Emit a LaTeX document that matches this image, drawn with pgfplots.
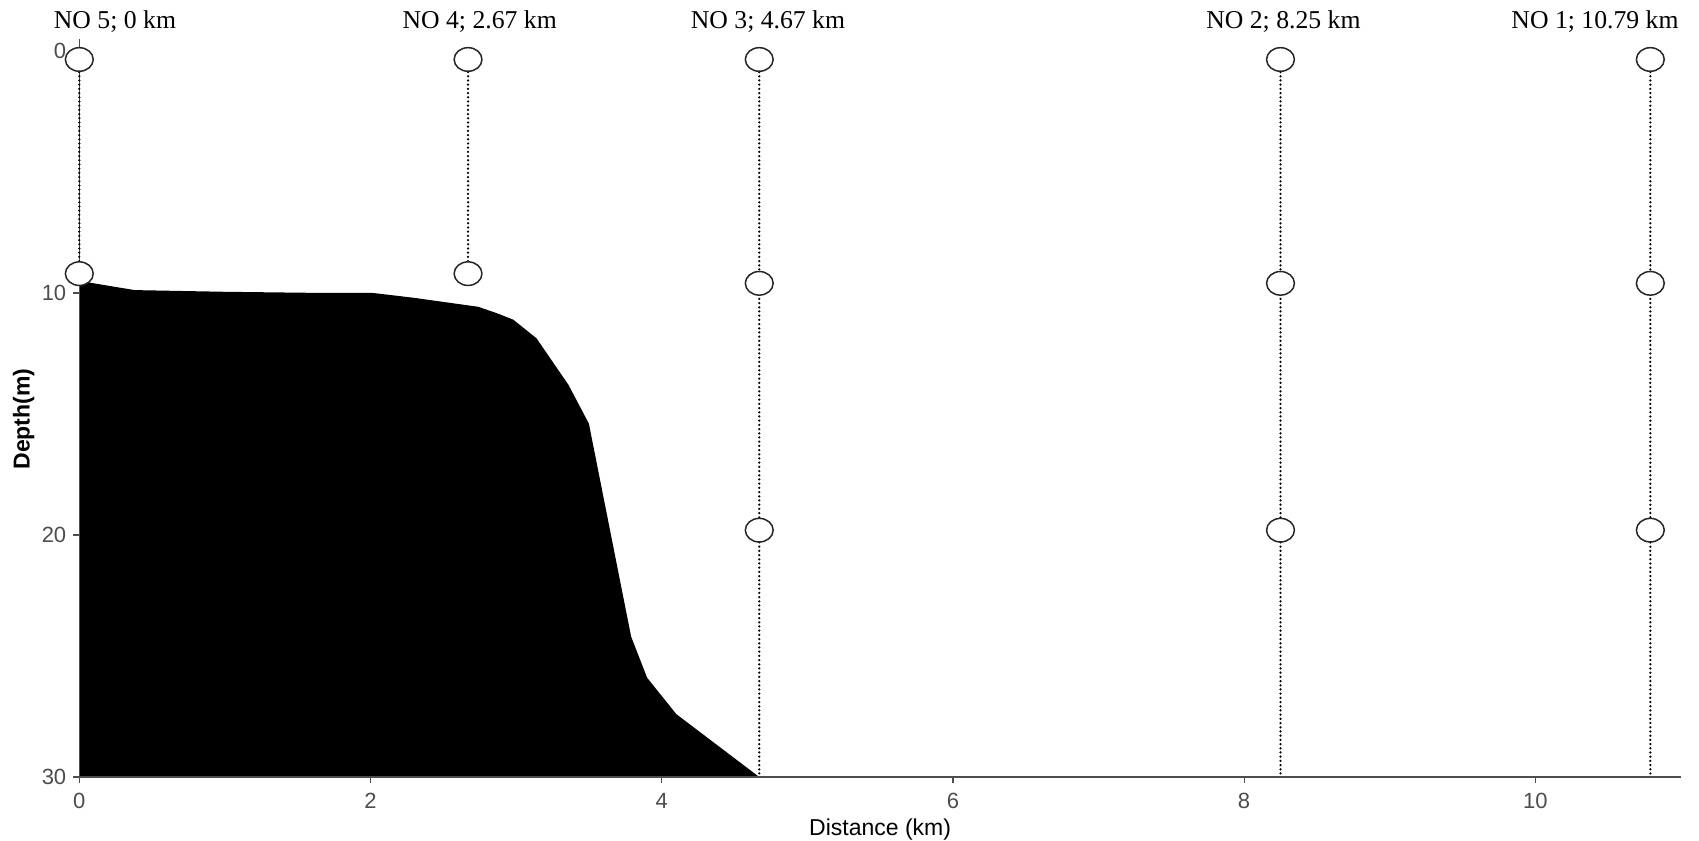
\documentclass[border=0pt]{standalone}
\usepackage{fontspec}
\setmainfont{Liberation Serif}
\setsansfont{Liberation Sans}
\usepackage{pgfplots}
\pgfplotsset{compat=1.18}
\definecolor{gray30}{HTML}{4D4D4D}
\begin{document}
\begin{tikzpicture}
\useasboundingbox (-39.65pt,-32pt) rectangle (809.85pt,388.5pt);
\begin{axis}[
  at={(0pt,0pt)}, anchor=south west,
  scale only axis, width=800.8pt, height=369.05pt,
  xmin=0, xmax=11, ymin=-0.5, ymax=30,
  y dir=reverse,
  clip=false,
  axis line style={draw=none},
  xtick={0,2,4,6,8,10}, ytick={0,10,20,30},
  xtick pos=bottom, ytick pos=left,
  tick align=outside, major tick length=3pt,
  tick style={gray30, line width=0.6pt},
  /pgf/number format/assume math mode=true,
  ticklabel style={font=\sffamily\fontsize{11}{13}\selectfont, text=gray30},
  xticklabel style={yshift=-1.5pt},
  xlabel={Distance (km)},
  ylabel={\bfseries Depth(m)},
  label style={font=\sffamily\fontsize{11.5}{13}\selectfont},
  xlabel style={at={(rel axis cs:0.5,0)}, anchor=center, yshift=-26.5pt},
  ylabel style={at={(axis description cs:-0.0348,0.485)}, anchor=center},
]
% seabed profile
\addplot[fill=black, draw=none] coordinates {
 (0,30) (0,9.5) (0.38,9.88) (1.0,9.95) (1.56,9.99) (2.02,10.0) (2.3,10.2)
 (2.74,10.57) (2.87,10.84) (2.98,11.1) (3.14,11.87) (3.36,13.8) (3.50,15.4)
 (3.79,24.2) (3.90,25.9) (4.10,27.4) (4.67,30)
};
% axis lines
\addplot[gray30, line width=1pt] coordinates {(0,30) (11,30)};
\addplot[gray30, line width=0.6pt] coordinates {(0,-0.5) (0,30)};
% dotted station lines
\addplot[black, line width=1.25pt, line cap=round, dash pattern=on 0pt off 2.1pt] coordinates {(0,0.35) (0,9.2)};
\addplot[black, line width=1.25pt, line cap=round, dash pattern=on 0pt off 2.1pt] coordinates {(2.67,0.35) (2.67,9.2)};
\addplot[black, line width=1.25pt, line cap=round, dash pattern=on 0pt off 2.1pt] coordinates {(4.67,0.35) (4.67,30)};
\addplot[black, line width=1.25pt, line cap=round, dash pattern=on 0pt off 2.1pt] coordinates {(8.25,0.35) (8.25,30)};
\addplot[black, line width=1.25pt, line cap=round, dash pattern=on 0pt off 2.1pt] coordinates {(10.79,0.35) (10.79,30)};
% sampling points
\addplot[only marks, mark=*, mark size=5.9pt,
  mark options={fill=white, draw=black!85, line width=0.75pt, xscale=1.18}] coordinates {
 (0,0.35) (0,9.2)
 (2.67,0.35) (2.67,9.2)
 (4.67,0.35) (4.67,9.6) (4.67,19.8)
 (8.25,0.35) (8.25,9.6) (8.25,19.8)
 (10.79,0.35) (10.79,9.6) (10.79,19.8)
};
% station labels
\begin{scope}[every node/.style={font=\rmfamily\fontsize{12.85}{14}\selectfont, anchor=center}]
\node at (axis cs:0.245,-1.2) {NO 5; 0 km};
\node at (axis cs:2.75,-1.2) {NO 4; 2.67 km};
\node at (axis cs:4.73,-1.2) {NO 3; 4.67 km};
\node at (axis cs:8.27,-1.2) {NO 2; 8.25 km};
\node at (axis cs:10.41,-1.2) {NO 1; 10.79 km};
\end{scope}
\end{axis}
\end{tikzpicture}
\end{document}
